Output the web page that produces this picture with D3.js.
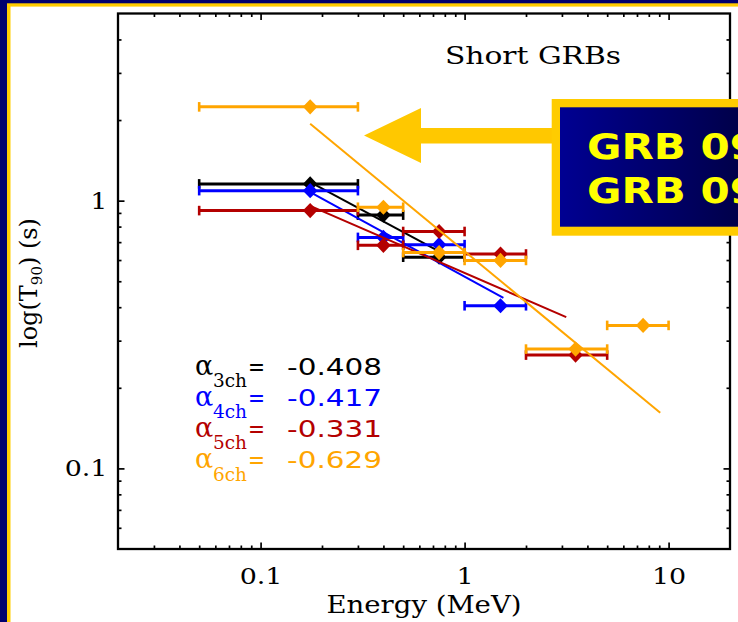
<html>
  <head>
    <script src="https://d3js.org/d3.v7.min.js" charset="utf-8"></script>
    <style type="text/css">
      body { margin: 0; padding: 0; background: #00006e; }
      svg { display: block; }
    </style>
  </head>
  <body>
    <div id="chart"></div>
    <script type="text/javascript">
      // energy bins (MeV)
      var binLo  = [0.05, 0.3, 0.5, 1, 2, 5];
      var binHi  = [0.3, 0.5, 1, 2, 5, 10];
      var binMid = [0.175, 0.4, 0.75, 1.5, 3.5, 7.5];

      // T90 (s) per channel set
      var t90_3ch = [1.155, 0.883, 0.615];
      var t90_4ch = [1.09, 0.729, 0.685, 0.405];
      var t90_5ch = [0.918, 0.681, 0.767, 0.632, 0.265];
      var t90_6ch = [2.24, 0.945, 0.64, 0.598, 0.279, 0.342];

      var seriesNames  = ["3ch", "4ch", "5ch", "6ch"];
      var seriesColors = ["#000000", "#0000ff", "#b40000", "#ffa500"];
      var alphas       = [-0.408, -0.417, -0.331, -0.629];
      // power law fit: log10(T90) = norm + alpha*log10(E), drawn over range
      var fitLogNorm = [-0.24, -0.284, -0.27, -0.189];
      var fitRange   = [[0.175, 0.75], [0.175, 1.55], [0.175, 3.15], [0.175, 9.1]];

      var xTickVals = [0.1, 1, 10];
      var xTickLabels = ["0.1", "1", "10"];
      var yTickVals = [0.1, 1];
      var yTickLabels = ["0.1", "1"];

      var W = 738, H = 622;
      var X0 = 118, X1 = 730, Y0 = 13.5, Y1 = 549;

      var svg = d3.select("#chart").append("svg").attr("width", W).attr("height", H);

      // slide background
      svg.append("rect").attr("width", W).attr("height", H).attr("fill", "#00006e");
      svg.append("rect").attr("x", 7).attr("y", 3.3).attr("width", W).attr("height", H).attr("fill", "#ffcc00");
      svg.append("rect").attr("x", 10.5).attr("y", 6.6).attr("width", W).attr("height", H).attr("fill", "#ffffff");

      var x = d3.scaleLog().domain([0.02, 20]).range([X0, X1]);
      var y = d3.scaleLog().domain([0.05, 5]).range([Y1, Y0]);

      function minorTicks(lo, hi) {
        var out = [];
        [0.01, 0.1, 1, 10].forEach(function (dec) {
          for (var k = 2; k <= 9; k++) {
            var v = +(dec * k).toPrecision(3);
            if (v > lo && v < hi) out.push(v);
          }
        });
        return out;
      }
      var xMinor = minorTicks(0.02, 20);
      var yMinor = minorTicks(0.05, 5);

      function styleAxis(g) {
        g.select(".domain").remove();
        g.selectAll("line").attr("stroke", "#000").attr("stroke-width", 1.7);
      }

      // minor ticks on all four sides
      [[d3.axisBottom(x), "translate(0," + Y1 + ")", xMinor],
       [d3.axisTop(x), "translate(0," + Y0 + ")", xMinor],
       [d3.axisLeft(y), "translate(" + X0 + ",0)", yMinor],
       [d3.axisRight(y), "translate(" + X1 + ",0)", yMinor]].forEach(function (a) {
        svg.append("g").attr("transform", a[1])
          .call(a[0].tickValues(a[2]).tickFormat("").tickSizeInner(-3.5).tickSizeOuter(0))
          .call(styleAxis);
      });

      // major ticks
      var gx = svg.append("g").attr("transform", "translate(0," + Y1 + ")")
        .call(d3.axisBottom(x).tickValues(xTickVals).tickFormat(function (d, i) { return xTickLabels[i]; })
          .tickSizeInner(-6.5).tickSizeOuter(0).tickPadding(19))
        .call(styleAxis);
      svg.append("g").attr("transform", "translate(0," + Y0 + ")")
        .call(d3.axisTop(x).tickValues(xTickVals).tickFormat("").tickSizeInner(-6.5).tickSizeOuter(0))
        .call(styleAxis);
      var gy = svg.append("g").attr("transform", "translate(" + X0 + ",0)")
        .call(d3.axisLeft(y).tickValues(yTickVals).tickFormat(function (d, i) { return yTickLabels[i]; })
          .tickSizeInner(-6.5).tickSizeOuter(0).tickPadding(9))
        .call(styleAxis);
      svg.append("g").attr("transform", "translate(" + X1 + ",0)")
        .call(d3.axisRight(y).tickValues(yTickVals).tickFormat("").tickSizeInner(-6.5).tickSizeOuter(0))
        .call(styleAxis);

      [gx, gy].forEach(function (g) {
        g.selectAll("text")
          .attr("font-family", "DejaVu Serif").attr("font-size", 23).attr("fill", "#000")
          .attr("transform", "scale(1.17,1)");
      });

      // frame
      svg.append("rect").attr("x", X0).attr("y", Y0).attr("width", X1 - X0).attr("height", Y1 - Y0)
        .attr("fill", "none").attr("stroke", "#000").attr("stroke-width", 2.3);

      // axis titles
      svg.append("text").attr("x", (X0 + X1) / 2).attr("y", 613).attr("text-anchor", "middle")
        .attr("font-family", "DejaVu Serif").attr("font-size", 24)
        .attr("textLength", 195).attr("lengthAdjust", "spacingAndGlyphs")
        .text("Energy (MeV)");

      var yt = svg.append("text").attr("transform", "translate(37,283) rotate(-90)")
        .attr("text-anchor", "middle").attr("font-family", "DejaVu Serif").attr("font-size", 24);
      yt.append("tspan").text("log(T");
      yt.append("tspan").attr("font-size", 15).attr("dy", 5).text("90");
      yt.append("tspan").attr("dy", -5).text(") (s)");

      svg.append("text").attr("x", 445).attr("y", 64)
        .attr("font-family", "DejaVu Serif").attr("font-size", 25)
        .attr("textLength", 176).attr("lengthAdjust", "spacingAndGlyphs")
        .text("Short GRBs");

      // series
      var allT90 = [t90_3ch, t90_4ch, t90_5ch, t90_6ch];
      var diamond = "M0,-7.6L7.3,0L0,7.6L-7.3,0Z";

      seriesNames.forEach(function (name, i) {
        var col = seriesColors[i];
        var vals = allT90[i];
        var g = svg.append("g").attr("class", "series-" + name);

        var fitPts = fitRange[i].map(function (e) {
          return [e, Math.pow(10, fitLogNorm[i] + alphas[i] * Math.log10(e))];
        });
        g.append("path")
          .attr("d", d3.line().x(function (d) { return x(d[0]); }).y(function (d) { return y(d[1]); })(fitPts))
          .attr("fill", "none").attr("stroke", col).attr("stroke-width", 2);

        var bars = g.selectAll(".bar").data(vals).enter().append("g").attr("class", "bar");
        bars.append("line")
          .attr("x1", function (d, j) { return x(binLo[j]); })
          .attr("x2", function (d, j) { return x(binHi[j]); })
          .attr("y1", function (d) { return y(d); })
          .attr("y2", function (d) { return y(d); })
          .attr("stroke", col).attr("stroke-width", 3);
        [binLo, binHi].forEach(function (edge) {
          bars.append("line")
            .attr("x1", function (d, j) { return x(edge[j]); })
            .attr("x2", function (d, j) { return x(edge[j]); })
            .attr("y1", function (d) { return y(d) - 4.8; })
            .attr("y2", function (d) { return y(d) + 4.8; })
            .attr("stroke", col).attr("stroke-width", 2.6);
        });

        g.selectAll(".pt").data(vals).enter().append("path").attr("class", "pt")
          .attr("d", diamond)
          .attr("transform", function (d, j) { return "translate(" + x(binMid[j]) + "," + y(d) + ")"; })
          .attr("fill", col);
      });

      // slope legend
      var legX = 195, legBase = 374.5, legStep = 31.2;
      seriesNames.forEach(function (name, i) {
        var b = legBase + i * legStep;
        var col = seriesColors[i];
        svg.append("text").attr("x", legX).attr("y", b).attr("fill", col)
          .attr("font-family", "DejaVu Serif").attr("font-size", 27).text("\u03b1");
        svg.append("text").attr("x", legX + 18).attr("y", b + 12.5).attr("fill", col)
          .attr("font-family", "DejaVu Serif").attr("font-size", 18)
          .attr("textLength", 34).attr("lengthAdjust", "spacingAndGlyphs").text(name);
        svg.append("text").attr("x", legX + 53).attr("y", b).attr("fill", col)
          .attr("font-family", "DejaVu Sans").attr("font-size", 23)
          .attr("textLength", 17).attr("lengthAdjust", "spacingAndGlyphs").text("=");
        svg.append("text").attr("x", legX + 92).attr("y", b).attr("fill", col)
          .attr("font-family", "DejaVu Sans").attr("font-size", 23)
          .attr("textLength", 95).attr("lengthAdjust", "spacingAndGlyphs").text(alphas[i].toFixed(3));
      });

      // callout arrow and box
      svg.append("path")
        .attr("d", "M364,135.5L421,108L421,128L556,128L556,143.5L421,143.5L421,163Z")
        .attr("fill", "#ffc800");
      var grad = svg.append("defs").append("linearGradient").attr("id", "boxgrad")
        .attr("gradientUnits", "userSpaceOnUse").attr("x1", 560).attr("x2", 738).attr("y1", 0).attr("y2", 0);
      grad.append("stop").attr("offset", 0).attr("stop-color", "#000092");
      grad.append("stop").attr("offset", 1).attr("stop-color", "#00004a");
      svg.append("rect").attr("x", 551.7).attr("y", 99).attr("width", 200).attr("height", 136.7).attr("fill", "#ffcc00");
      svg.append("rect").attr("x", 560).attr("y", 107.3).attr("width", 200).attr("height", 119.4).attr("fill", "url(#boxgrad)");
      ["GRB 09", "GRB 09"].forEach(function (t, i) {
        svg.append("text").attr("x", 587).attr("y", 158.5 + i * 44.3)
          .attr("font-family", "DejaVu Sans").attr("font-weight", "bold").attr("font-size", 36)
          .attr("textLength", 172).attr("lengthAdjust", "spacingAndGlyphs")
          .attr("fill", "#ffff00").text(t);
      });
    </script>
  </body>
</html>
